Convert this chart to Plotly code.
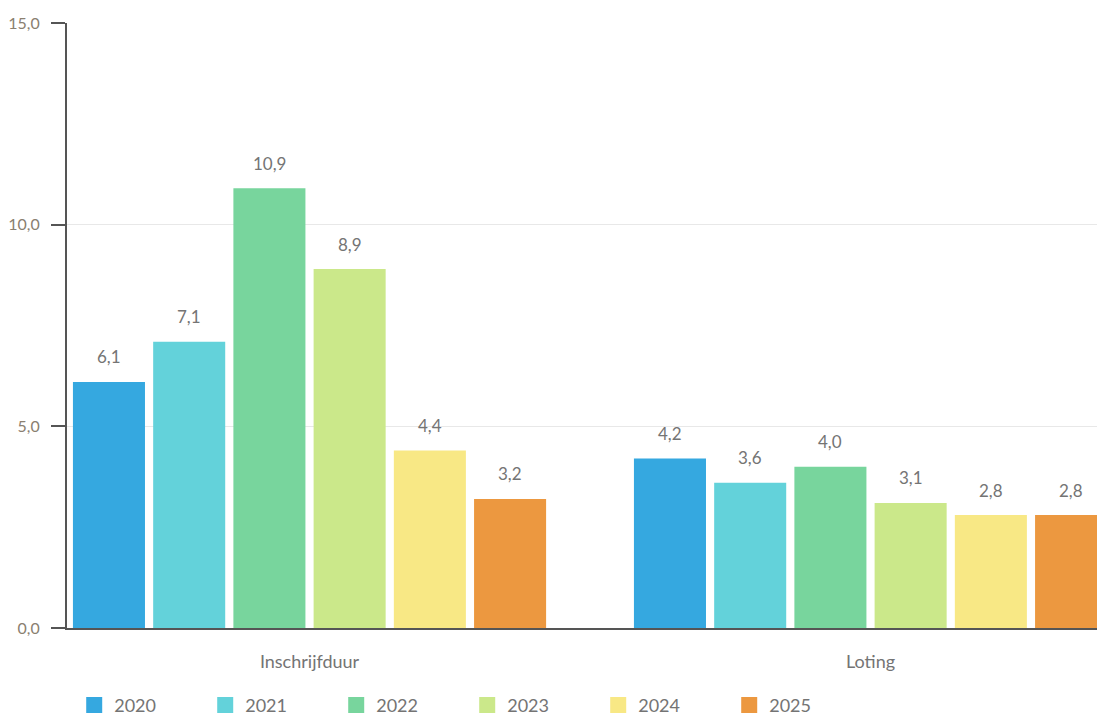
import plotly.graph_objects as go

categories = ["Inschrijfduur", "Loting"]
years = ["2020", "2021", "2022", "2023", "2024", "2025"]
values = {
    "2020": [6.1, 4.2],
    "2021": [7.1, 3.6],
    "2022": [10.9, 4.0],
    "2023": [8.9, 3.1],
    "2024": [4.4, 2.8],
    "2025": [3.2, 2.8],
}
colors = ["#35a8e0", "#63d2da", "#78d59d", "#cbe88a", "#f8e885", "#ec9840"]
y_ticks = [0, 5, 10, 15]

FONT = "Lato"
TEXT_GRAY = "#747474"
BARGAP = 0.142
BARGROUPGAP = 0.102

fig = go.Figure()

for year, color in zip(years, colors):
    fig.add_trace(go.Bar(
        x=categories,
        y=values[year],
        name=year,
        marker=dict(color=color, line=dict(width=0)),
        showlegend=False,
        hoverinfo="skip",
    ))

# value labels above each bar, placed on the category index scale
slot = (1 - BARGAP) / len(years)
annotations = []
for i, year in enumerate(years):
    for j, v in enumerate(values[year]):
        annotations.append(dict(
            x=j + (i - (len(years) - 1) / 2) * slot, y=v,
            xref="x", yref="y",
            text=f"{v:.1f}".replace(".", ","),
            showarrow=False, yanchor="middle", yshift=25,
            font=dict(family=FONT, size=17, color=TEXT_GRAY),
        ))

# legend entries with larger square swatches
for year, color in zip(years, colors):
    fig.add_trace(go.Scatter(
        x=[None], y=[None], mode="markers", name=year,
        marker=dict(symbol="square", size=18, color=color),
        showlegend=True,
    ))

fig.update_layout(
    width=1097, height=716,
    margin=dict(l=67, r=0, t=23, b=88, autoexpand=False),
    paper_bgcolor="white", plot_bgcolor="white",
    barmode="group", bargap=BARGAP, bargroupgap=BARGROUPGAP,
    separators=",.",
    font=dict(family=FONT, color=TEXT_GRAY),
    annotations=annotations,
    legend=dict(
        orientation="h", x=0.007, xanchor="left",
        yref="container", y=0.015, yanchor="middle",
        entrywidth=86, entrywidthmode="pixels",
        font=dict(family=FONT, size=18, color=TEXT_GRAY),
        itemsizing="trace",
    ),
    xaxis=dict(
        type="category",
        range=[-0.4323, 1.4037],
        showline=True, linecolor="#555555", linewidth=2,
        layer="below traces",
        ticks="", showgrid=False,
        tickfont=dict(family=FONT, size=18, color=TEXT_GRAY),
        ticklabelstandoff=16,
    ),
    yaxis=dict(
        range=[0, 15],
        tickvals=y_ticks, tickformat=".1f",
        showline=True, linecolor="#555555", linewidth=2,
        ticks="outside", ticklen=14, tickwidth=2, tickcolor="#555555",
        showgrid=True, gridcolor="#e8e8e8", gridwidth=1,
        zeroline=False,
        tickfont=dict(family=FONT, size=16, color="#8a8070"),
        ticklabelstandoff=8,
    ),
)

fig.write_html("out.html")
